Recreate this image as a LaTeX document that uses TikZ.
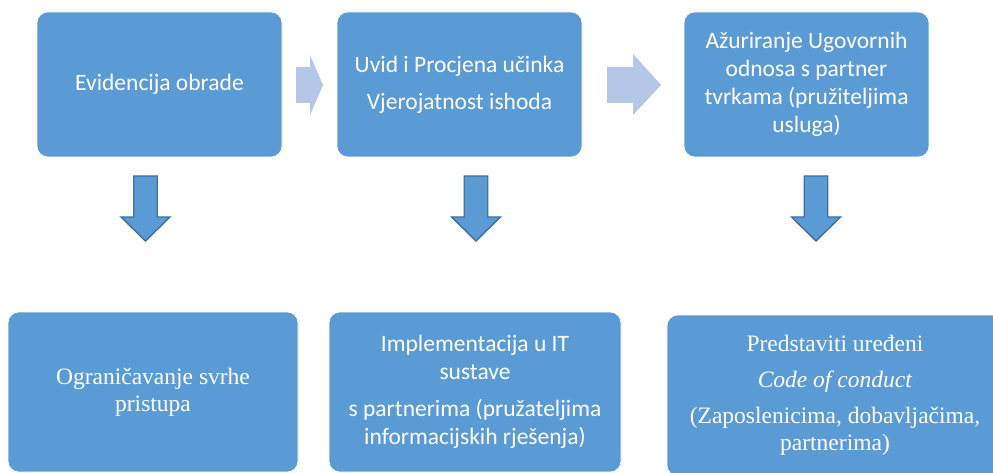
\documentclass[tikz,border=0pt]{standalone}
\usepackage{fontspec}
\setmainfont{Liberation Serif}
\newfontfamily\calibri{Carlito}

\definecolor{plava}{HTML}{5B9BD5}
\definecolor{svijetlaPlava}{HTML}{B4C7E7}
\definecolor{rubStrelice}{HTML}{41719C}

\tikzset{
  kutija/.style={rectangle, rounded corners=11pt, fill=plava, draw=white,
    line width=0.6pt, text=white, align=center, inner sep=0pt},
  kutijaSans/.style={kutija, font=\calibri\fontsize{23.5}{28}\selectfont},
  kutijaSerif/.style={kutija, font=\fontsize{23.5}{27}\selectfont},
  strelicaDesno/.style={fill=svijetlaPlava},
  strelicaDolje/.style={fill=plava, draw=rubStrelice, line width=1.4pt},
}

\begin{document}
\begin{tikzpicture}[x=1pt, y=-1pt]
  \fill[white] (0,0) rectangle (993,473);
  \useasboundingbox (0,0) rectangle (993,473);

  % gornji red
  \node[kutijaSans, minimum width=245pt, minimum height=145pt] (evidencija) at (159.5,84.5)
    {Evidencija obrade};
  \node[kutijaSans, minimum width=245pt, minimum height=145pt] (procjena) at (459.5,84.5)
    {Uvid i Procjena učinka\\[9pt] Vjerojatnost ishoda};
  \node[kutijaSans, minimum width=245pt, minimum height=145pt] (ugovori) at (806.5,84.5)
    {Ažuriranje Ugovornih\\ odnosa s partner\\ tvrkama (pružiteljima\\ usluga)};

  % donji red
  \node[kutijaSerif, minimum width=290pt, minimum height=160pt] (ogranicenje) at (153,392)
    {Ograničavanje svrhe\\ pristupa};
  \node[kutijaSans, minimum width=292pt, minimum height=160pt] (implementacija) at (475,392)
    {Implementacija u IT\\ sustave\\[9pt] s partnerima (pružateljima\\ informacijskih rješenja)};
  \node[kutijaSerif, minimum width=336pt, minimum height=161pt] (kodeks) at (835,395.5)
    {Predstaviti uređeni\\[9pt] \textit{Code of conduct}\\[9pt] (Zaposlenicima, dobavljačima,\\ partnerima)};

  % strelice izmedju kutija
  \fill[strelicaDesno] (296,67) -- (310,67) -- (310,55) -- (323,85) -- (310,115)
    -- (310,103) -- (296,103) -- cycle;
  \fill[strelicaDesno] (607,67) -- (633,67) -- (633,54) -- (661,85) -- (633,115)
    -- (633,103) -- (607,103) -- cycle;

  \foreach \c in {145.5,476,816}
    \draw[strelicaDolje] (\c-11.75,176) -- (\c+11.75,176) -- (\c+11.75,217) -- (\c+24.5,217)
      -- (\c,241) -- (\c-24.5,217) -- (\c-11.75,217) -- cycle;
\end{tikzpicture}
\end{document}
